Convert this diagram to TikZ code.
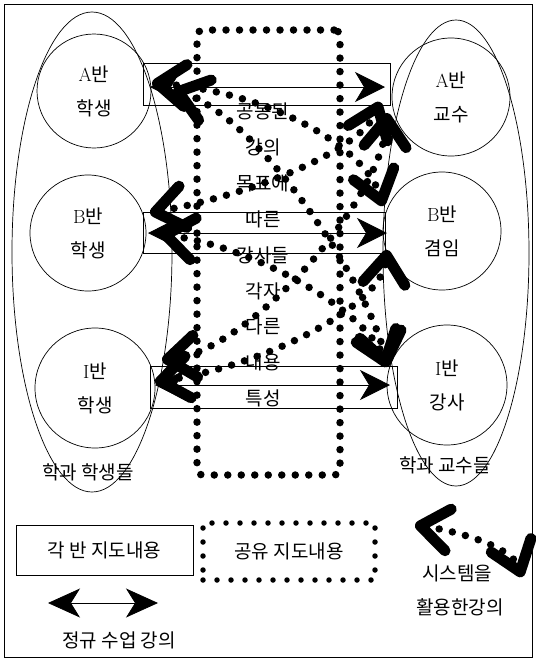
\documentclass[tikz,border=0pt]{standalone}
\usepackage{fontspec}
\newfontfamily\krfont{Noto Sans CJK KR}
\usetikzlibrary{arrows.meta,shapes.geometric}
\begin{document}
\begin{tikzpicture}[x=1pt,y=-1pt,
  txt/.style={font=\krfont\fontsize{19}{34}\selectfont, align=center, inner sep=0pt},
  ring/.style={draw, circle, line width=0.7pt, inner sep=0pt, txt},
  egg/.style={draw, ellipse, line width=0.7pt, inner sep=0pt},
  rowbox/.style={draw, line width=0.7pt, inner sep=0pt},
  bigdots/.style={line width=7.5pt, dash pattern=on 0pt off 13.5pt, line cap=round},
  smalldots/.style={draw, line width=5.5pt, dash pattern=on 0pt off 14pt, line cap=round},
  chev/.tip={Straight Barb[length=28pt,width=42pt,line width=11pt,round]},
  sysline/.style={bigdots, chev-chev},
  solidtip/.tip={Stealth[length=30pt,width=30pt,inset=9pt]},
  regarrow/.style={line width=0.8pt, solidtip-solidtip},
]
\useasboundingbox (0,0) rectangle (536,670);
% frame
\node[draw, line width=0.9pt, minimum width=528pt, minimum height=653pt, inner sep=0pt] (frame) at (268,330.5) {};
% group ellipses
\node[egg, minimum width=160pt, minimum height=480pt] (stud) at (92,252) {};
\node[egg, minimum width=146pt, minimum height=466pt] (prof) at (456,253) {};
% circles
\node[ring, minimum size=114pt] (as) at (94,91) {\textrm{A}반\\학생};
\node[ring, minimum size=116pt] (bs) at (88,233) {\textrm{B}반\\학생};
\node[ring, minimum size=120pt] (is) at (95,388) {\textrm{I}반\\학생};
\node[ring, minimum size=118pt] (at) at (451,97) {\textrm{A}반\\교수};
\node[ring, minimum size=118pt] (bt) at (442,231) {\textrm{B}반\\겸임};
\node[ring, minimum size=120pt] (it) at (447,385) {\textrm{I}반\\강사};
% row boxes
\node[rowbox, minimum width=247pt, minimum height=42pt] (ra) at (266.5,84) {};
\node[rowbox, minimum width=242pt, minimum height=41pt] (rb) at (264,232.5) {};
\node[rowbox, minimum width=247pt, minimum height=42pt] (ri) at (273.5,387) {};
% labels
\node[txt] (lstud) at (88,472) {학과 학생들};
\node[txt] (lprof) at (445,465) {학과 교수들};
\node[txt, font=\krfont\fontsize{19}{35.9}\selectfont] (mid) at (263,255) {공동된\\강의\\목표에\\따른\\강사들\\각자\\다른\\내용\\특성};
% shared dotted box
\node[draw, bigdots, rounded corners=6pt, minimum width=143pt, minimum height=445pt, inner sep=0pt] (share) at (268.5,252.5) {};
% regular arrows
\coordinate (raL) at (150,87); \coordinate (raR) at (385,87);
\coordinate (rbL) at (148,233); \coordinate (rbR) at (387,233);
\coordinate (riL) at (155,385); \coordinate (riR) at (390,385);
\draw[regarrow] (raL) -- (raR);
\draw[regarrow] (rbL) -- (rbR);
\draw[regarrow] (riL) -- (riR);
% system lines
\coordinate (aL1) at (152,83); \coordinate (aL2) at (173,90);
\coordinate (bL1) at (150,213); \coordinate (bL2) at (160,234);
\coordinate (iL1) at (162,360); \coordinate (iL2) at (155,382);
\coordinate (atB1) at (380,102); \coordinate (atB2) at (387,113);
\coordinate (btT) at (383,206); \coordinate (btB) at (387,250);
\coordinate (itT) at (387,367);
\draw[sysline] (aL1) .. controls (270,92) and (366,148) .. (btT);
\draw[sysline] (aL2) .. controls (262,118) and (372,292) .. (itT);
\draw[sysline] (bL1) .. controls (262,192) and (362,148) .. (atB1);
\draw[sysline] (bL2) .. controls (268,250) and (370,318) .. (itT);
\draw[sysline] (iL1) .. controls (250,350) and (382,200) .. (atB2);
\draw[sysline] (iL2) .. controls (268,365) and (382,305) .. (btB);
% legend
\node[rowbox, txt, minimum width=177pt, minimum height=50pt] (lg1) at (104.5,550) {각 반 지도내용};
\node[smalldots, txt, minimum width=172pt, minimum height=57pt] (lg2) at (289,551.5) {공유 지도내용};
\coordinate (lgaL) at (48,603); \coordinate (lgaR) at (158,603);
\draw[line width=0.8pt, {Stealth[length=32pt,width=29pt,inset=9pt]}-{Stealth[length=32pt,width=29pt,inset=9pt]}] (lgaL) -- (lgaR);
\node[txt] (lg3) at (119,640) {정규 수업 강의};
\coordinate (lgsA) at (415,525); \coordinate (lgsB) at (522,577);
\draw[sysline] (lgsA) .. controls (462,532) and (512,548) .. (lgsB);
\node[txt] (lg4) at (457,573) {시스템을};
\node[txt] (lg5) at (460,607) {활용한강의};
\end{tikzpicture}
\end{document}
